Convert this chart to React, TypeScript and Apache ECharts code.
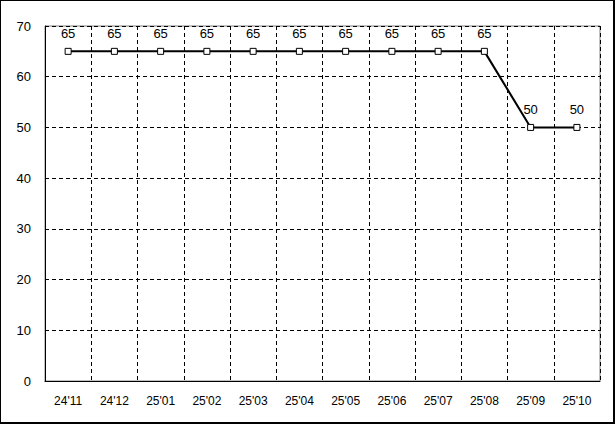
import React, { useEffect, useRef } from "react";
import * as echarts from "echarts";

const categories = ["24'11", "24'12", "25'01", "25'02", "25'03", "25'04", "25'05", "25'06", "25'07", "25'08", "25'09", "25'10"];
const values = [65, 65, 65, 65, 65, 65, 65, 65, 65, 65, 50, 50];
const yTicks = { min: 0, max: 70, interval: 10 };

export default function App() {
  const ref = useRef<HTMLDivElement>(null);
  useEffect(() => {
    document.body.style.margin = "0";
    const chart = echarts.init(ref.current!, null, { renderer: "svg" });
    const font = "'Liberation Sans', Arial, sans-serif";
    chart.setOption({
      animation: false,
      backgroundColor: "#ffffff",
      grid: {
        left: 45, top: 26, right: 15, bottom: 43,
        show: true, borderColor: "#808080", borderWidth: 1, backgroundColor: "transparent",
      },
      xAxis: {
        type: "category",
        data: categories,
        boundaryGap: true,
        axisLine: { show: true, lineStyle: { color: "#000", width: 1 } },
        axisTick: { show: false },
        axisLabel: { color: "#000", fontFamily: font, fontSize: 12, margin: 14 },
        splitLine: { show: true, lineStyle: { color: "#000", type: [4, 3], width: 1 } },
      },
      yAxis: {
        type: "value",
        min: yTicks.min, max: yTicks.max, interval: yTicks.interval,
        axisLine: { show: true, lineStyle: { color: "#000", width: 1 } },
        axisTick: { show: false },
        axisLabel: { color: "#000", fontFamily: font, fontSize: 13, margin: 14 },
        splitLine: { show: true, lineStyle: { color: "#000", type: [4, 3], width: 1 } },
      },
      series: [
        {
          type: "line",
          data: values,
          symbol: "rect",
          symbolSize: 6,
          itemStyle: { color: "#fff", borderColor: "#000", borderWidth: 1 },
          lineStyle: { color: "#000", width: 2 },
          label: { show: true, position: "top", distance: 8, color: "#000", fontFamily: font, fontSize: 13 },
        },
      ],
      graphic: [
        { type: "rect", left: 0, top: 0, shape: { width: 1, height: 424 }, style: { fill: "#000" }, silent: true },
        { type: "rect", left: 0, top: 0, shape: { width: 615, height: 1 }, style: { fill: "#000" }, silent: true },
        { type: "rect", right: 0, top: 0, shape: { width: 2, height: 424 }, style: { fill: "#000" }, silent: true },
        { type: "rect", left: 0, bottom: 0, shape: { width: 615, height: 2 }, style: { fill: "#000" }, silent: true },
      ],
    });
    return () => chart.dispose();
  }, []);
  return <div ref={ref} style={{ width: 615, height: 424 }} />;
}
